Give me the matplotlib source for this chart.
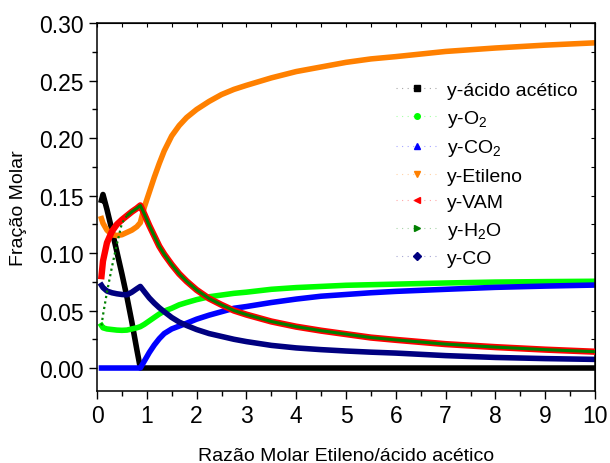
import matplotlib

matplotlib.use("Agg")
import matplotlib.pyplot as plt
from matplotlib.colors import to_rgba
from matplotlib.lines import Line2D
from matplotlib.ticker import MultipleLocator

plt.rcParams["font.family"] = ["Liberation Sans", "DejaVu Sans"]
plt.rcParams["mathtext.fontset"] = "custom"
plt.rcParams["mathtext.rm"] = "Liberation Sans"
plt.rcParams["mathtext.it"] = "Liberation Sans:italic"
plt.rcParams["mathtext.default"] = "regular"

# Ethylene / acetic acid molar ratio
ratio = [0.09, 0.12, 0.2, 0.3, 0.4, 0.5, 0.6, 0.7, 0.8, 0.87, 0.95, 1.05, 1.15,
         1.25, 1.35, 1.5, 1.65, 1.8, 2.0, 2.25, 2.5, 2.75, 3.0, 3.5, 4.0, 4.5,
         5.0, 5.5, 6.0, 7.0, 8.0, 9.0, 10.0]

y_acetic = [0.146, 0.151, 0.138, 0.120, 0.101, 0.082, 0.062, 0.040, 0.016, 0.0,
            0.0, 0.0, 0.0, 0.0, 0.0, 0.0, 0.0, 0.0, 0.0, 0.0, 0.0, 0.0, 0.0,
            0.0, 0.0, 0.0, 0.0, 0.0, 0.0, 0.0, 0.0, 0.0, 0.0]
y_o2 = [0.037, 0.035, 0.034, 0.0335, 0.033, 0.0328, 0.033, 0.034, 0.035, 0.036,
        0.038, 0.041, 0.044, 0.047, 0.0495, 0.052, 0.055, 0.057, 0.0595, 0.062,
        0.0635, 0.065, 0.066, 0.0685, 0.070, 0.071, 0.072, 0.0725, 0.073,
        0.074, 0.0748, 0.0752, 0.0755]
y_co2 = [0.0, 0.0, 0.0, 0.0, 0.0, 0.0, 0.0, 0.0, 0.0, 0.0, 0.006, 0.0135, 0.020,
         0.0255, 0.030, 0.034, 0.0365, 0.039, 0.0425, 0.046, 0.049, 0.052,
         0.0535, 0.057, 0.060, 0.0625, 0.064, 0.0655, 0.0667, 0.0685, 0.0702,
         0.0713, 0.0722]
y_ethylene = [0.130, 0.126, 0.120, 0.116, 0.1153, 0.116, 0.118, 0.120, 0.123,
              0.1265, 0.140, 0.153, 0.166, 0.178, 0.189, 0.202, 0.211, 0.218,
              0.225, 0.232, 0.238, 0.2425, 0.246, 0.2525, 0.258, 0.262, 0.266,
              0.269, 0.271, 0.2755, 0.2785, 0.281, 0.283]
y_vam = [0.080, 0.093, 0.109, 0.119, 0.125, 0.129, 0.1325, 0.136, 0.139, 0.1415,
         0.134, 0.124, 0.115, 0.106, 0.099, 0.090, 0.082, 0.0755, 0.068, 0.0605,
         0.055, 0.050, 0.0465, 0.0405, 0.036, 0.0325, 0.0295, 0.0265, 0.0245,
         0.0208, 0.0182, 0.016, 0.0142]
y_h2o = [0.037, 0.046, 0.066, 0.088, 0.108, 0.126, 0.1325, 0.136, 0.139, 0.1415,
         0.134, 0.124, 0.115, 0.106, 0.099, 0.090, 0.082, 0.0755, 0.068, 0.0605,
         0.055, 0.050, 0.0465, 0.0405, 0.036, 0.0325, 0.0295, 0.0265, 0.0245,
         0.0208, 0.0182, 0.016, 0.0142]
y_co = [0.072, 0.070, 0.067, 0.0655, 0.0646, 0.064, 0.0637, 0.066, 0.069, 0.071,
        0.0665, 0.061, 0.0565, 0.0525, 0.049, 0.044, 0.040, 0.037, 0.0335, 0.030,
        0.0275, 0.025, 0.023, 0.0197, 0.0175, 0.016, 0.0148, 0.0138, 0.013,
        0.0108, 0.0092, 0.0082, 0.0075]

H2O_RISE = 7  # points of the steep start, drawn dotted like the original

SERIES = [
    ("y-ácido acético", y_acetic, "black", "s"),
    ("y-O$_2$", y_o2, "#00ff00", "o"),
    ("y-CO$_2$", y_co2, "#0000ff", "^"),
    ("y-Etileno", y_ethylene, "#ff8000", "v"),
    ("y-VAM", y_vam, "#ff0000", "<"),
    ("y-H$_2$O", y_h2o, "#008000", ">"),
    ("y-CO", y_co, "#000080", "D"),
]

fig = plt.figure(figsize=(6.1, 4.64), dpi=100)
ax = fig.add_axes([97 / 610, 72 / 464, 498 / 610, 367.7 / 464])

for label, values, color, marker in SERIES:
    if label.startswith("y-H"):
        ax.plot(ratio[:H2O_RISE], values[:H2O_RISE], color=color,
                linestyle=(0, (1, 1.5)), linewidth=1.6, zorder=3)
        ax.plot(ratio[H2O_RISE - 1:], values[H2O_RISE - 1:], color=color,
                linewidth=2.2, solid_capstyle="butt", zorder=3)
    elif label == "y-VAM":
        ax.plot(ratio, values, color=color, linewidth=4.6, zorder=3)
    else:
        ax.plot(ratio, values, color=color, linewidth=4.0, zorder=2)

ax.set_xlim(0, 10)
ax.set_ylim(-0.02, 0.30)
ax.xaxis.set_major_locator(MultipleLocator(1))
ax.xaxis.set_minor_locator(MultipleLocator(0.5))
ax.yaxis.set_major_locator(MultipleLocator(0.05))
ax.yaxis.set_minor_locator(MultipleLocator(0.025))
ax.yaxis.set_major_formatter(plt.FormatStrFormatter("%.2f"))
ax.tick_params(which="both", direction="out", labelsize=16.5, width=1.0)
ax.tick_params(which="major", length=6)
ax.tick_params(which="minor", length=3.5)
for spine in ax.spines.values():
    spine.set_linewidth(1.1)

# mirrored ticks on top/right, no labels
top = ax.secondary_xaxis("top")
top.xaxis.set_major_locator(MultipleLocator(0.5))
top.tick_params(direction="in", length=3, labeltop=False)
right = ax.secondary_yaxis("right")
right.yaxis.set_major_locator(MultipleLocator(0.025))
right.tick_params(direction="in", length=3, labelright=False)

ax.set_xlabel("Razão Molar Etileno/ácido acético", fontsize=14, labelpad=14)
ax.set_ylabel("Fração Molar", fontsize=14, labelpad=9)

handles = [
    Line2D([], [], color=to_rgba(color, 0.35), linestyle=(0, (1, 4)),
           linewidth=0.8, marker=marker, markersize=4,
           markerfacecolor=color, markeredgecolor=color)
    for _, _, color, marker in SERIES
]
ax.legend(handles, [s[0] for s in SERIES], loc="upper left",
          bbox_to_anchor=(0.565, 0.89), frameon=False, fontsize=14,
          handlelength=2.2, handletextpad=0.45, labelspacing=0.45)

fig.savefig("out.png", dpi=100)
